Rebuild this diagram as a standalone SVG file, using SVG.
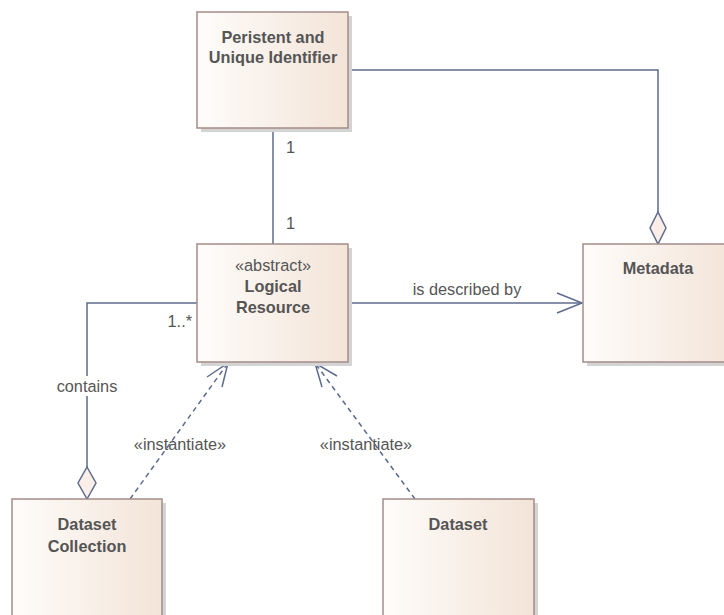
<svg xmlns="http://www.w3.org/2000/svg" width="724" height="615" viewBox="0 0 724 615">
  <style>
    .box { fill: url(#classFill); stroke: #a48c8a; stroke-width: 1.5; }
    .shadow { fill: #d4d4d4; }
    .name { font-family: "Liberation Sans", Arial, sans-serif; font-size: 16.3px; font-weight: bold; fill: #555555; text-anchor: middle; }
    .lbl { font-family: "Liberation Sans", Arial, sans-serif; font-size: 16.3px; fill: #555555; }
    .mid { text-anchor: middle; }
    .end { text-anchor: end; }
    .edge { fill: none; stroke: #5e6b8c; stroke-width: 1.5; }
    .dash { stroke-dasharray: 5 4; }
    .diamond { fill: #fbeee8; stroke: #5e6b8c; stroke-width: 1.5; }
  </style>
  <defs>
    <linearGradient id="classFill" x1="0" y1="0" x2="1" y2="0">
      <stop offset="0" stop-color="#fefcfa"/>
      <stop offset="1" stop-color="#f3e4d8"/>
    </linearGradient>
  </defs>
  <rect width="724" height="615" fill="#ffffff"/>

  <!-- connectors -->
  <g id="connectors">
    <!-- identifier to logical resource -->
    <path class="edge" d="M273,128 V244"/>
    <text class="lbl" x="286" y="153">1</text>
    <text class="lbl" x="286" y="229">1</text>
    <!-- identifier aggregated by metadata -->
    <path class="edge" d="M348,70 H658 V212"/>
    <path class="diamond" d="M658,212 L666,228 L658,244 L650,228 Z"/>
    <!-- is described by -->
    <path class="edge" d="M348,303 H582"/>
    <path class="edge" d="M557,293 L582,303 L557,313"/>
    <text class="lbl mid" x="467" y="295">is described by</text>
    <!-- contains -->
    <path class="edge" d="M197,303 H87 V467"/>
    <path class="diamond" d="M87,467 L96,483 L87,499 L78,483 Z"/>
    <rect x="54" y="376" width="66" height="20" fill="#ffffff"/>
    <text class="lbl mid" x="87" y="392">contains</text>
    <text class="lbl end" x="192" y="327">1..*</text>
    <!-- instantiate (collection) -->
    <path class="edge dash" d="M130,499 L228,363"/>
    <path class="edge" d="M207,377 L228,363 L222,387"/>
    <text class="lbl mid" x="180" y="450">«instantiate»</text>
    <!-- instantiate (dataset) -->
    <path class="edge dash" d="M415,499 L315,363"/>
    <path class="edge" d="M337,376 L315,363 L322,387"/>
    <text class="lbl mid" x="366" y="450">«instantiate»</text>
  </g>

  <g id="identifier">
    <rect class="shadow" x="201" y="16" width="151" height="116"/>
    <rect class="box" x="197" y="12" width="151" height="116"/>
    <text class="name" x="273" y="43">Peristent and</text>
    <text class="name" x="273" y="63">Unique Identifier</text>
  </g>

  <g id="logical-resource">
    <rect class="shadow" x="201" y="248" width="151" height="118"/>
    <rect class="box" x="197" y="244" width="151" height="118"/>
    <text class="lbl mid" x="273" y="271">«abstract»</text>
    <text class="name" x="273" y="292">Logical</text>
    <text class="name" x="273" y="313">Resource</text>
  </g>

  <g id="metadata">
    <rect class="shadow" x="587" y="248" width="151" height="118"/>
    <rect class="box" x="583" y="244" width="151" height="118"/>
    <text class="name" x="658" y="274">Metadata</text>
  </g>

  <g id="dataset-collection">
    <rect class="shadow" x="16" y="503" width="150" height="130"/>
    <rect class="box" x="12" y="499" width="150" height="130"/>
    <text class="name" x="87" y="530">Dataset</text>
    <text class="name" x="87" y="552">Collection</text>
  </g>

  <g id="dataset">
    <rect class="shadow" x="387" y="503" width="151" height="130"/>
    <rect class="box" x="383" y="499" width="151" height="130"/>
    <text class="name" x="458" y="530">Dataset</text>
  </g>
</svg>
